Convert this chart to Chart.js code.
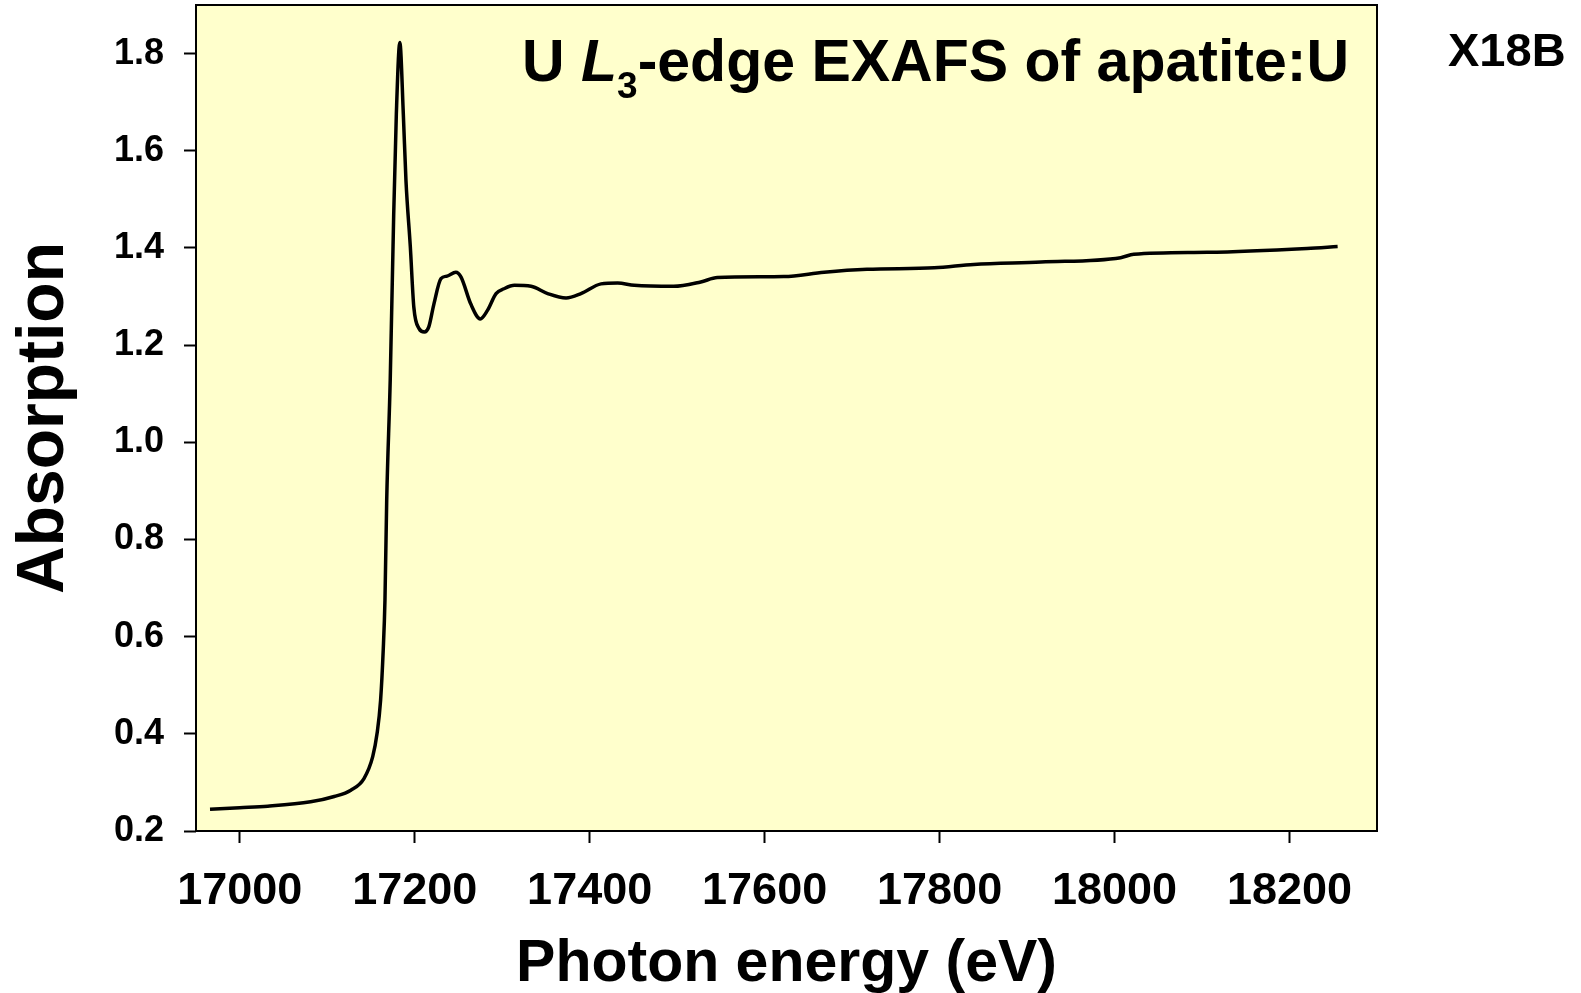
<!DOCTYPE html>
<html>
<head>
<meta charset="utf-8">
<script src="https://cdn.jsdelivr.net/npm/chart.js@4.4.1/dist/chart.umd.min.js"></script>
<style>
  html, body { margin: 0; padding: 0; background: #ffffff; }
  #wrap { width: 1581px; height: 993px; position: relative; }
</style>
</head>
<body>
<div id="wrap"><canvas id="exafs"></canvas></div>
<script>
// photon energy (eV) and absorption
const energy = [16966, 17000, 17032, 17081, 17108, 17127, 17142, 17152, 17157, 17161,
    17164, 17166, 17168, 17172, 17176, 17179, 17183, 17187, 17190, 17195,
    17199, 17205, 17211, 17216, 17222, 17230, 17237, 17247, 17253, 17264,
    17275, 17283, 17293, 17302, 17314, 17333, 17352, 17373, 17390, 17413,
    17432, 17451, 17496, 17527, 17546, 17622, 17668, 17717, 17794, 17839,
    17916, 18007, 18022, 18106, 18220, 18255];
const absorption = [0.245, 0.248, 0.251, 0.260, 0.271, 0.284, 0.308, 0.353, 0.401, 0.469,
    0.572, 0.675, 0.881, 1.127, 1.470, 1.675, 1.823, 1.675, 1.539, 1.402,
    1.278, 1.234, 1.227, 1.237, 1.285, 1.337, 1.342, 1.350, 1.340, 1.285,
    1.254, 1.271, 1.306, 1.316, 1.323, 1.321, 1.306, 1.297, 1.306, 1.326,
    1.328, 1.323, 1.321, 1.330, 1.339, 1.341, 1.350, 1.356, 1.359, 1.366,
    1.371, 1.380, 1.387, 1.391, 1.399, 1.403];

const xTicks = [17000, 17200, 17400, 17600, 17800, 18000, 18200];
const yTicks = [0.2, 0.4, 0.6, 0.8, 1.0, 1.2, 1.4, 1.6, 1.8];

const FONT = '"Liberation Sans", Arial, sans-serif';

const plotFrame = {
    id: 'plotFrame',
    beforeDraw(chart) {
        const a = chart.chartArea;
        const c = chart.ctx;
        c.save();
        c.fillStyle = '#ffffcc';
        c.fillRect(a.left, a.top, a.right - a.left, a.bottom - a.top);
        c.restore();
    },
    afterDraw(chart) {
        const a = chart.chartArea;
        const c = chart.ctx;
        c.save();
        c.strokeStyle = '#000';
        c.lineWidth = 2;
        c.strokeRect(a.left, a.top, a.right - a.left, a.bottom - a.top);

        // title inside the plot, right aligned: U L3-edge EXAFS of apatite:U
        c.fillStyle = '#000';
        c.textBaseline = 'alphabetic';
        const big = 'bold 59px ' + FONT;
        const ital = 'italic bold 59px ' + FONT;
        const sub = 'bold 37px ' + FONT;
        const parts = [
            { t: 'U ', f: big, dy: 0 },
            { t: 'L', f: ital, dy: 0 },
            { t: '3', f: sub, dy: 17 },
            { t: '-edge EXAFS of apatite:U', f: big, dy: 0 }
        ];
        let w = 0;
        parts.forEach(p => { c.font = p.f; w += c.measureText(p.t).width; });
        let x = 1349 - w;
        const base = 81;
        parts.forEach(p => {
            c.font = p.f;
            c.fillText(p.t, x, base + p.dy);
            x += c.measureText(p.t).width;
        });

        c.font = 'bold 47px ' + FONT;
        c.fillText('X18B', 1448, 66);
        c.restore();
    }
};

new Chart(document.getElementById('exafs'), {
    type: 'line',
    data: {
        datasets: [{
            data: energy.map((e, i) => ({ x: e, y: absorption[i] })),
            borderColor: '#000',
            borderWidth: 3.5,
            pointRadius: 0,
            cubicInterpolationMode: 'monotone',
            fill: false
        }]
    },
    options: {
        responsive: true,
        maintainAspectRatio: false,
        animation: false,
        layout: { padding: { top: 5, right: 204, left: 0, bottom: 0 } },
        plugins: { legend: { display: false }, tooltip: { enabled: false } },
        scales: {
            x: {
                type: 'linear',
                min: 16950,
                max: 18300,
                afterBuildTicks: s => { s.ticks = xTicks.map(v => ({ value: v })); },
                afterFit: s => { s.height = 162; s.paddingLeft = 0; s.paddingRight = 0; },
                border: { display: false },
                grid: { drawOnChartArea: false, drawTicks: true, tickLength: 12, tickColor: '#000', tickWidth: 2 },
                ticks: {
                    color: '#000',
                    padding: 22,
                    maxRotation: 0,
                    font: { family: FONT, size: 45, weight: 'bold' },
                    callback: v => String(v)
                },
                title: {
                    display: true,
                    text: 'Photon energy (eV)',
                    color: '#000',
                    padding: { top: 0, bottom: -7 },
                    font: { family: FONT, size: 59, weight: 'bold' }
                }
            },
            y: {
                min: 0.2,
                max: 1.9,
                afterBuildTicks: s => { s.ticks = yTicks.map(v => ({ value: v })); },
                afterFit: s => { s.width = 196; s.paddingTop = 0; s.paddingBottom = 0; },
                border: { display: false },
                grid: { drawOnChartArea: false, drawTicks: true, tickLength: 12, tickColor: '#000', tickWidth: 2 },
                ticks: {
                    color: '#000',
                    padding: 20,
                    font: { family: FONT, size: 36, weight: 'bold' },
                    callback: v => v.toFixed(1)
                },
                title: {
                    display: true,
                    text: 'Absorption',
                    color: '#000',
                    padding: { top: 5, bottom: 0 },
                    font: { family: FONT, size: 66, weight: 'bold' }
                }
            }
        }
    },
    plugins: [plotFrame]
});
</script>
</body>
</html>
